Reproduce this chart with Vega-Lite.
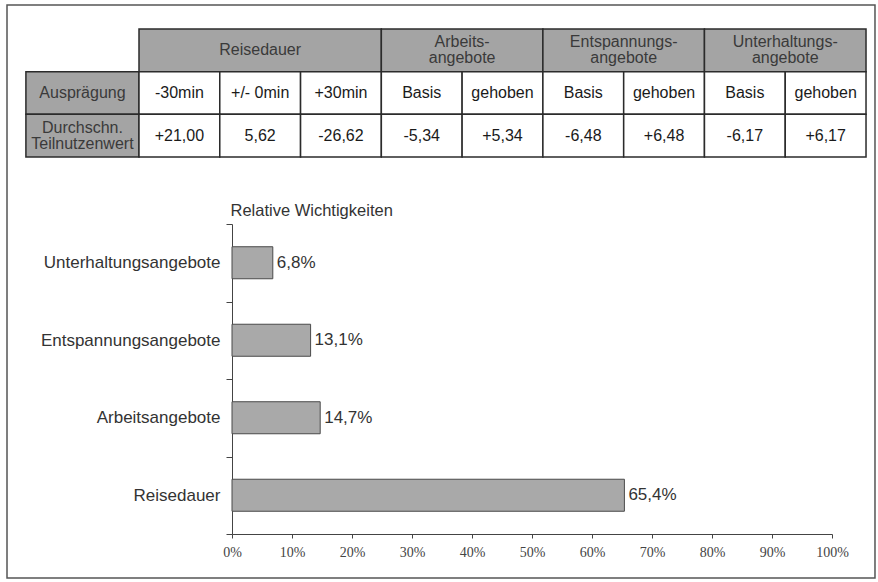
{
  "$schema": "https://vega.github.io/schema/vega-lite/v6.json",
  "width": 600,
  "height": 310,
  "autosize": {"type": "none"},
  "padding": {"left": 232, "top": 224, "right": 46, "bottom": 48},
  "background": "white",
  "config": {
    "font": "Liberation Sans",
    "view": {"stroke": null},
    "locale": {"number": {"decimal": ",", "thousands": ".", "grouping": [3], "currency": ["", " €"]}}
  },
  "resolve": {"scale": {"x": "independent", "y": "independent", "fill": "independent", "color": "independent"}, "axis": {"x": "independent", "y": "independent"}},
  "layer": [
    {
      "data": {"values": [
        {"text": "Reisedauer", "art": "Kopf", "c0": 0, "c1": 3, "r0": 0, "r1": 1},
        {"text": "Arbeits-\nangebote", "art": "Kopf", "c0": 3, "c1": 5, "r0": 0, "r1": 1},
        {"text": "Entspannungs-\nangebote", "art": "Kopf", "c0": 5, "c1": 7, "r0": 0, "r1": 1},
        {"text": "Unterhaltungs-\nangebote", "art": "Kopf", "c0": 7, "c1": 9, "r0": 0, "r1": 1},
        {"text": "Ausprägung", "art": "Kopf", "c0": -1.4, "c1": 0, "r0": 1, "r1": 2},
        {"text": "-30min", "art": "Wert", "c0": 0, "c1": 1, "r0": 1, "r1": 2},
        {"text": "+/- 0min", "art": "Wert", "c0": 1, "c1": 2, "r0": 1, "r1": 2},
        {"text": "+30min", "art": "Wert", "c0": 2, "c1": 3, "r0": 1, "r1": 2},
        {"text": "Basis", "art": "Wert", "c0": 3, "c1": 4, "r0": 1, "r1": 2},
        {"text": "gehoben", "art": "Wert", "c0": 4, "c1": 5, "r0": 1, "r1": 2},
        {"text": "Basis", "art": "Wert", "c0": 5, "c1": 6, "r0": 1, "r1": 2},
        {"text": "gehoben", "art": "Wert", "c0": 6, "c1": 7, "r0": 1, "r1": 2},
        {"text": "Basis", "art": "Wert", "c0": 7, "c1": 8, "r0": 1, "r1": 2},
        {"text": "gehoben", "art": "Wert", "c0": 8, "c1": 9, "r0": 1, "r1": 2},
        {"text": "Durchschn.\nTeilnutzenwert", "art": "Kopf", "c0": -1.4, "c1": 0, "r0": 2, "r1": 3},
        {"text": "+21,00", "art": "Wert", "c0": 0, "c1": 1, "r0": 2, "r1": 3},
        {"text": "5,62", "art": "Wert", "c0": 1, "c1": 2, "r0": 2, "r1": 3},
        {"text": "-26,62", "art": "Wert", "c0": 2, "c1": 3, "r0": 2, "r1": 3},
        {"text": "-5,34", "art": "Wert", "c0": 3, "c1": 4, "r0": 2, "r1": 3},
        {"text": "+5,34", "art": "Wert", "c0": 4, "c1": 5, "r0": 2, "r1": 3},
        {"text": "-6,48", "art": "Wert", "c0": 5, "c1": 6, "r0": 2, "r1": 3},
        {"text": "+6,48", "art": "Wert", "c0": 6, "c1": 7, "r0": 2, "r1": 3},
        {"text": "-6,17", "art": "Wert", "c0": 7, "c1": 8, "r0": 2, "r1": 3},
        {"text": "+6,17", "art": "Wert", "c0": 8, "c1": 9, "r0": 2, "r1": 3}
      ]},
      "layer": [
        {
          "mark": {"type": "rect", "stroke": "#2b2b2b", "strokeWidth": 1.5},
          "encoding": {
            "x": {"field": "c0", "type": "quantitative", "scale": {"domain": [1.15127, 8.57886], "zero": false, "nice": false}, "axis": null},
            "x2": {"field": "c1"},
            "y": {"field": "r0", "type": "quantitative", "scale": {"domain": [4.57, 11.835], "zero": false, "nice": false, "reverse": true}, "axis": null},
            "y2": {"field": "r1"},
            "fill": {"field": "art", "type": "nominal", "scale": {"domain": ["Kopf", "Wert"], "range": ["#a4a4a4", "#ffffff"]}, "legend": null}
          }
        },
        {
          "transform": [
            {"filter": "indexof(datum.text, '\\n') < 0"},
            {"calculate": "(datum.c0 + datum.c1) / 2", "as": "cm"},
            {"calculate": "(datum.r0 + datum.r1) / 2", "as": "rm"}
          ],
          "mark": {"type": "text", "fontSize": 16, "baseline": "middle", "align": "center"},
          "encoding": {
            "x": {"field": "cm", "type": "quantitative", "axis": null},
            "y": {"field": "rm", "type": "quantitative", "axis": null},
            "text": {"field": "text"},
            "color": {"field": "art", "type": "nominal", "scale": {"domain": ["Kopf", "Wert"], "range": ["#3a3a3a", "#1a1a1a"]}, "legend": null}
          }
        },
        {
          "transform": [
            {"filter": "indexof(datum.text, '\\n') >= 0"},
            {"calculate": "(datum.c0 + datum.c1) / 2", "as": "cm"},
            {"calculate": "(datum.r0 + datum.r1) / 2", "as": "rm"}
          ],
          "mark": {"type": "text", "fontSize": 16, "lineBreak": "\n", "lineHeight": 16, "baseline": "middle", "align": "center", "dy": -8},
          "encoding": {
            "x": {"field": "cm", "type": "quantitative", "axis": null},
            "y": {"field": "rm", "type": "quantitative", "axis": null},
            "text": {"field": "text"},
            "color": {"field": "art", "type": "nominal", "legend": null}
          }
        },
        {
          "data": {"values": [{}]},
          "mark": {"type": "rect", "fill": "transparent", "stroke": "#555555", "strokeWidth": 1.5},
          "encoding": {
            "x": {"datum": -1.634, "type": "quantitative", "axis": null},
            "x2": {"datum": 9.111},
            "y": {"datum": -0.5625, "type": "quantitative", "axis": null},
            "y2": {"datum": 12.866}
          }
        }
      ]
    },
    {
      "data": {"values": [
        {"Merkmal": "Unterhaltungsangebote", "Anteil": 0.068},
        {"Merkmal": "Entspannungsangebote", "Anteil": 0.131},
        {"Merkmal": "Arbeitsangebote", "Anteil": 0.147},
        {"Merkmal": "Reisedauer", "Anteil": 0.654}
      ]},
      "encoding": {
        "y": {"field": "Merkmal", "type": "nominal", "sort": null,
              "scale": {"paddingInner": 0, "paddingOuter": 0},
              "axis": {"title": "Relative Wichtigkeiten", "titleAngle": 0, "titleAlign": "left", "titleBaseline": "alphabetic", "titleX": -2, "titleY": -9, "titleFontSize": 16.5, "titleFontWeight": "normal", "titleColor": "#333333",
                       "tickBand": "extent", "tickSize": 6, "labelFontSize": 17, "labelColor": "#333333", "labelPadding": 6, "labelLimit": 300, "domainColor": "#444444", "tickColor": "#444444"}},
        "x": {"field": "Anteil", "type": "quantitative", "scale": {"domain": [0, 1], "nice": false},
              "axis": {"title": null, "values": [0, 0.1, 0.2, 0.3, 0.4, 0.5, 0.6, 0.7, 0.8, 0.9, 1], "format": ".0%", "labelFont": "Liberation Sans Narrow", "labelFontSize": 14, "labelColor": "#444444", "labelFlush": false, "tickSize": 4, "labelPadding": 7, "grid": false, "domainColor": "#444444", "tickColor": "#444444"}}
      },
      "layer": [
        {"mark": {"type": "bar", "fill": "#a9a9a9", "stroke": "#4a4a4a", "strokeWidth": 1, "height": {"band": 0.413}}},
        {"mark": {"type": "text", "align": "left", "baseline": "middle", "dx": 4, "fontSize": 17, "color": "#333333"},
         "encoding": {"text": {"field": "Anteil", "type": "quantitative", "format": ".1%"}}}
      ]
    }
  ]
}
